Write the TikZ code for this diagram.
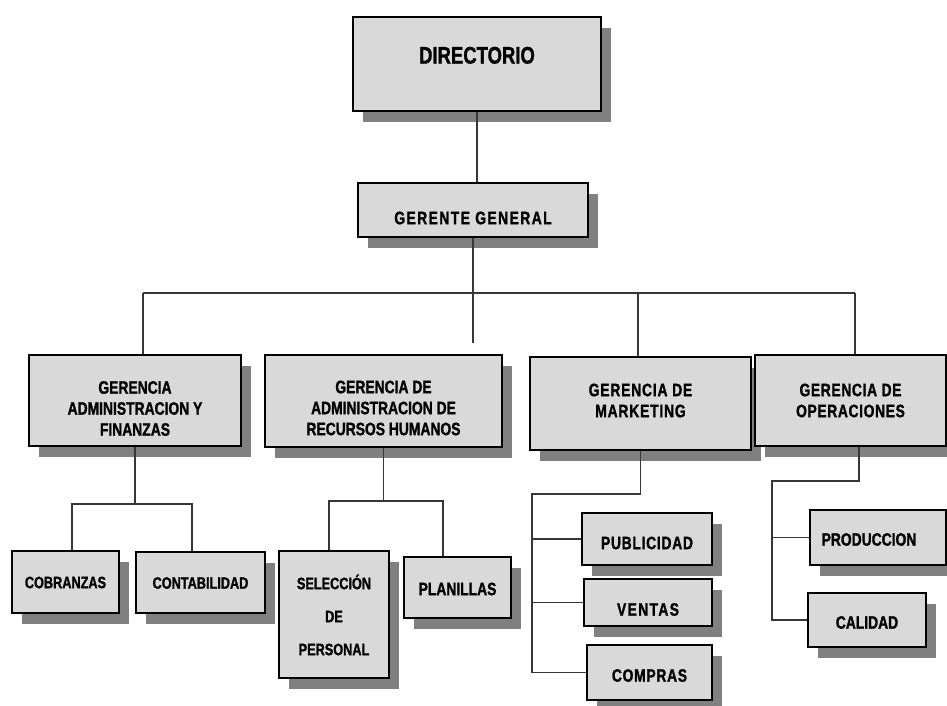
\documentclass[tikz,border=0pt]{standalone}
\usepackage{fontspec}
\newfontfamily\orgfont{Liberation Sans}[FakeStretch=0.77, FakeBold=1.2]
\usetikzlibrary{shadows}
\definecolor{boxfill}{RGB}{217,217,217}
\definecolor{shadowgray}{RGB}{128,128,128}
\definecolor{linegray}{RGB}{55,55,55}
% centred block of lines, its ink shifted up (positive) or down (negative)
\newcommand\orgtxt[2]{\raisebox{#1}[\height][\depth]{\begin{tabular}{@{}c@{}}#2\end{tabular}}}
% extra tracking for the wider labels
\newcommand\lsp[1]{\addfontfeature{LetterSpace=#1}}
\tikzset{
  orgbox/.style={draw=black, line width=1.5pt, fill=boxfill, inner sep=0pt,
    drop shadow={shadow xshift=10pt, shadow yshift=-11pt, fill=shadowgray, opacity=1},
    font=\orgfont\bfseries\fontsize{18pt}{21pt}\selectfont},
  smallfont/.style={font=\orgfont\bfseries\fontsize{16.5pt}{21pt}\selectfont},
  conn/.style={draw=linegray, line width=1.3pt},
}
\begin{document}
\begin{tikzpicture}[x=1pt, y=-1pt]
\useasboundingbox (0,0) rectangle (947,706);

% top levels
\node[orgbox, minimum width=248pt, minimum height=94pt,
      font=\orgfont\bfseries\fontsize{24pt}{28pt}\selectfont] (dir) at (477,64)
      {\orgtxt{6pt}{DIRECTORIO}};
\node[orgbox, minimum width=230pt, minimum height=54pt] (gg) at (473,210)
      {\lsp{8}\orgtxt{-10pt}{GERENTE GENERAL}};

% managers
\node[orgbox, minimum width=212pt, minimum height=91pt] (gaf) at (135,400.5)
      {\orgtxt{-10pt}{GERENCIA\\ADMINISTRACION Y\\FINANZAS}};
\node[orgbox, minimum width=237pt, minimum height=92pt] (rh) at (383.5,401)
      {\orgtxt{-9pt}{GERENCIA DE\\ADMINISTRACION DE\\RECURSOS HUMANOS}};
\node[orgbox, minimum width=221pt, minimum height=93pt] (mkt) at (640.5,403.5)
      {\lsp{4.5}\orgtxt{1pt}{GERENCIA DE\\MARKETING}};
\node[orgbox, minimum width=191pt, minimum height=91pt] (ops) at (850.5,400.5)
      {\lsp{3.5}\orgtxt{-2pt}{GERENCIA DE\\OPERACIONES}};

% departments
\node[orgbox, smallfont, minimum width=107pt, minimum height=62pt] (cob) at (65.5,582)
      {\orgtxt{-2pt}{COBRANZAS}};
\node[orgbox, smallfont, minimum width=129pt, minimum height=61pt] (cont) at (200.5,582.5)
      {\orgtxt{-2pt}{CONTABILIDAD}};
\node[orgbox, smallfont, minimum width=110pt, minimum height=127pt] (sel) at (334,614.5)
      {\orgtxt{-3.5pt}{SELECCIÓN\\[12pt]DE\\[12pt]PERSONAL}};
\node[orgbox, minimum width=107pt, minimum height=61pt] (plan) at (457.5,587.5)
      {\orgtxt{-3.5pt}{PLANILLAS}};
\node[orgbox, minimum width=130pt, minimum height=52pt] (pub) at (647,539)
      {\lsp{4}\orgtxt{-6pt}{PUBLICIDAD}};
\node[orgbox, minimum width=128pt, minimum height=47pt] (ven) at (648,602.5)
      {\lsp{7.5}\orgtxt{-9pt}{VENTAS}};
\node[orgbox, minimum width=125pt, minimum height=55pt] (comp) at (649.5,672.5)
      {\lsp{4}\orgtxt{-5pt}{COMPRAS}};
\node[orgbox, minimum width=136pt, minimum height=55pt] (prod) at (878,537.5)
      {\orgtxt{-4pt}{PRODUCCION\hspace*{18pt}}};
\node[orgbox, minimum width=118pt, minimum height=54pt] (cal) at (867,620)
      {\orgtxt{-4.5pt}{CALIDAD}};

% junction points
\coordinate (busL) at (143,293);
\coordinate (busR) at (855,293);
\coordinate (busM) at (638,293);
\coordinate (rhend) at (472,343);
\coordinate (f1) at (72,504);
\coordinate (f2) at (192,504);
\coordinate (h1) at (329,501);
\coordinate (h2) at (443,501);
\coordinate (m1) at (532,494);
\coordinate (o1) at (772,481);

% main tree
\draw[conn] (dir.south) -- (dir.south |- gg.north);
\draw[conn] (gg.south) -- (gg.south |- rhend);
\draw[conn] (busL) -- (busR);
\draw[conn] (busL) -- (busL |- gaf.north);
\draw[conn] (busM) -- (busM |- mkt.north);
\draw[conn] (busR) -- (busR |- ops.north);

% finance branch
\draw[conn] (gaf.south) -- (gaf.south |- f1);
\draw[conn] (f1 |- cob.north) -- (f1) -- (f2) -- (f2 |- cont.north);

% human resources branch
\draw[conn] (rh.south) -- (rh.south |- h1);
\draw[conn] (h1 |- sel.north) -- (h1) -- (h2) -- (h2 |- plan.north);

% marketing branch
\draw[conn] (mkt.south) -- (mkt.south |- m1) -- (m1) -- (m1 |- comp.west) -- (comp.west);
\draw[conn] (m1 |- pub.west) -- (pub.west);
\draw[conn] (m1 |- ven.west) -- (ven.west);

% operations branch
\draw[conn] ([xshift=8.5pt]ops.south) -- ([xshift=8.5pt]ops.south |- o1) -- (o1)
            -- (o1 |- cal.west) -- (cal.west);
\draw[conn] (o1 |- prod.west) -- (prod.west);
\end{tikzpicture}
\end{document}
